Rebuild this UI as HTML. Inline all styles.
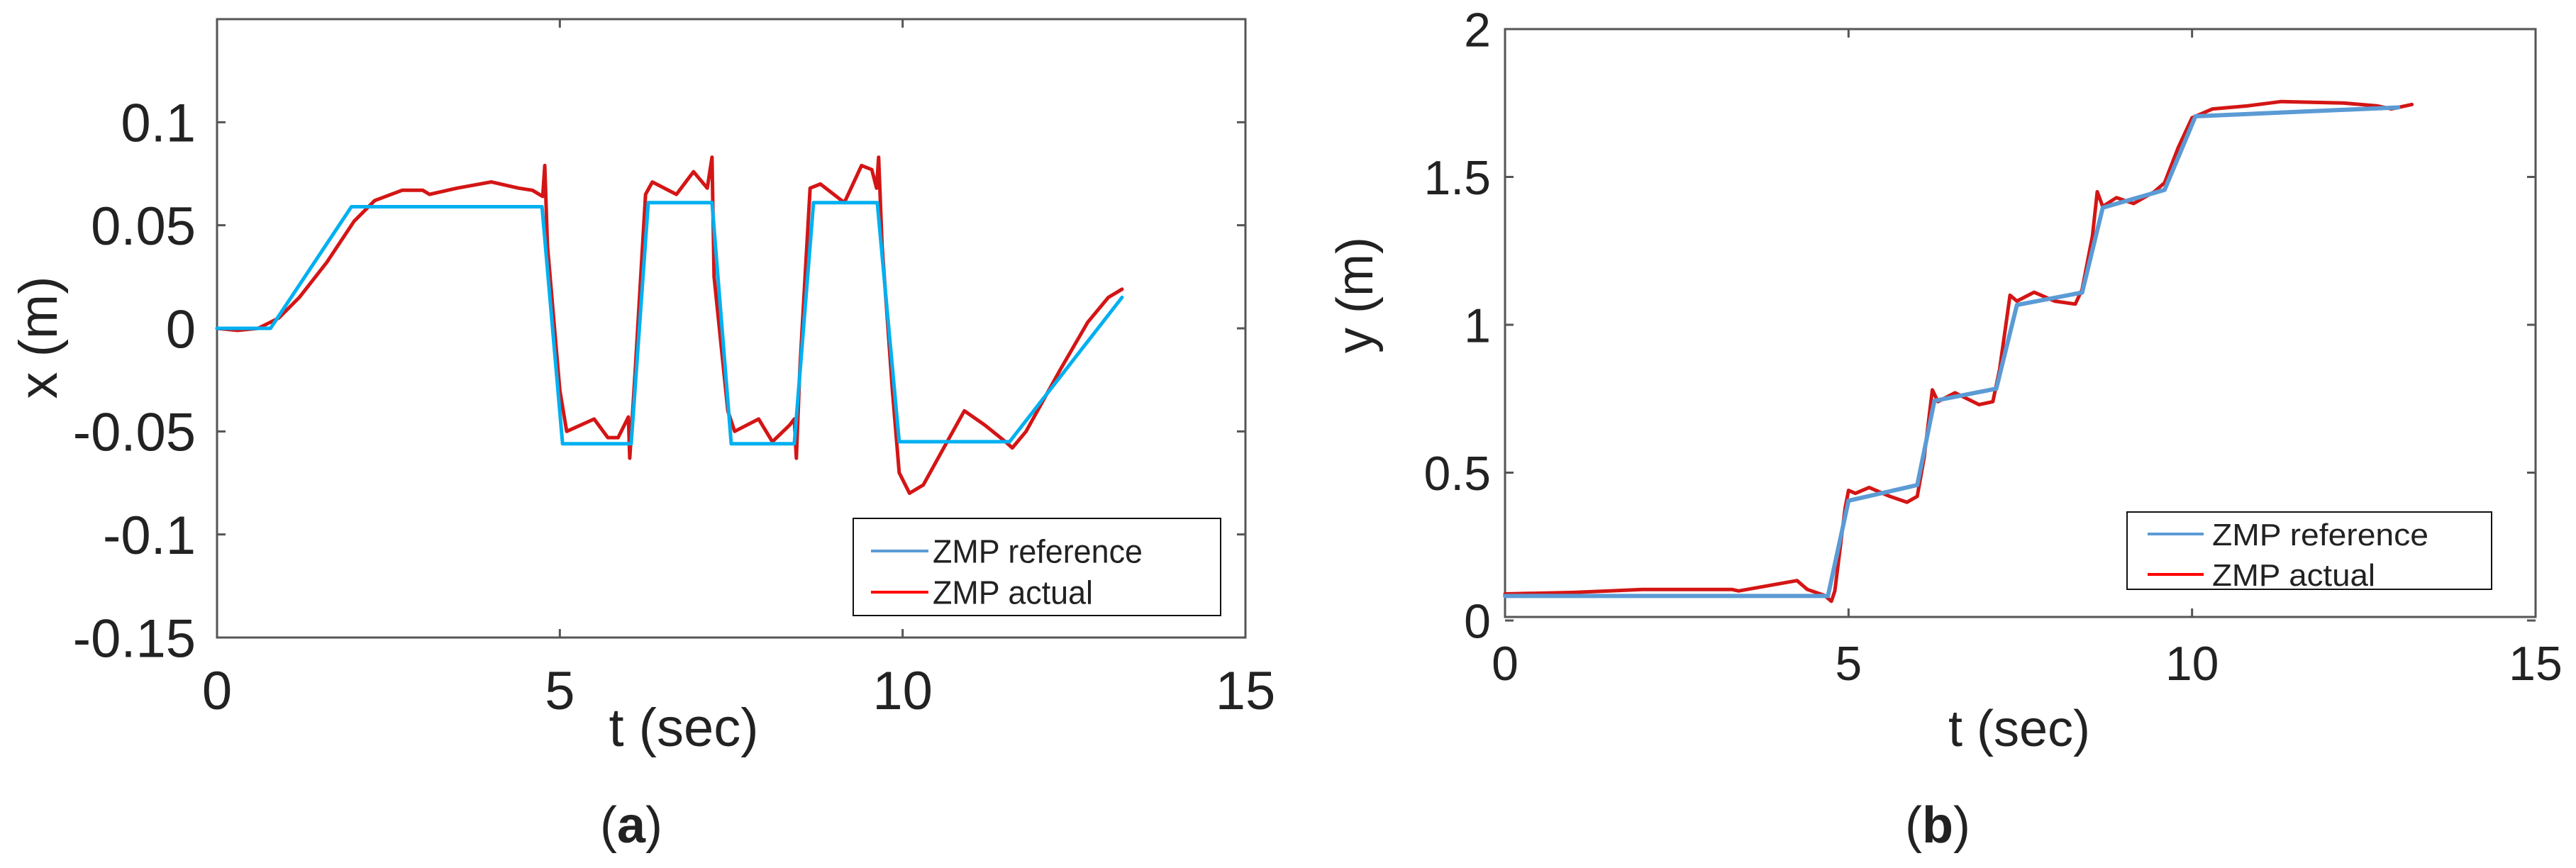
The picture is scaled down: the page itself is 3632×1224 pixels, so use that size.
<!DOCTYPE html>
<html><head><meta charset="utf-8"><style>
html,body{margin:0;padding:0;background:#fff;}
svg{display:block;}
text{font-family:"Liberation Sans",sans-serif;fill:#222;}
</style></head><body>
<svg id="fig" width="3632" height="1224" viewBox="0 0 3632 1224" xmlns="http://www.w3.org/2000/svg">
<g id="pa"></g>
<g id="pb"></g>
</svg>
<script>
// ---- Chart A data ----
const aRefT = [0,0.78,1.96,4.74,5.04,6.04,6.29,7.22,7.5,8.42,8.7,9.63,9.95,11.56,13.2];
const aRefV = [0,0,0.059,0.059,-0.056,-0.056,0.061,0.061,-0.056,-0.056,0.061,0.061,-0.055,-0.055,0.015];
const aActT = [0,0.3,0.6,0.9,1.2,1.6,2.0,2.3,2.7,3.0,3.1,3.5,4.0,4.4,4.6,4.75,4.78,4.82,5.0,5.1,5.5,5.7,5.85,6.0,6.02,6.1,6.25,6.35,6.7,6.95,7.15,7.22,7.25,7.45,7.55,7.9,8.1,8.35,8.42,8.45,8.5,8.65,8.8,9.15,9.4,9.55,9.62,9.65,9.7,9.85,9.95,10.1,10.3,10.7,10.9,11.2,11.5,11.6,11.8,12.3,12.7,13.0,13.2];
const aActV = [0,-0.001,0,0.005,0.015,0.032,0.052,0.062,0.067,0.067,0.065,0.068,0.071,0.068,0.067,0.064,0.079,0.04,-0.03,-0.05,-0.044,-0.053,-0.053,-0.043,-0.063,-0.02,0.065,0.071,0.065,0.076,0.068,0.083,0.025,-0.04,-0.05,-0.044,-0.055,-0.047,-0.044,-0.063,-0.02,0.068,0.07,0.061,0.079,0.077,0.068,0.083,0.04,-0.03,-0.07,-0.08,-0.076,-0.052,-0.04,-0.047,-0.055,-0.058,-0.05,-0.02,0.003,0.015,0.019];
const aXTicks = [0,5,10,15];
const aYTicks = [0.1,0.05,0,-0.05,-0.1,-0.15];
const aYTickLabels = ["0.1","0.05","0","-0.05","-0.1","-0.15"];
// ---- Chart B data ----
const bRefT = [0,4.7,5.0,6.0,6.25,7.15,7.45,8.4,8.7,9.6,10.05,13.0];
const bRefV = [0.083,0.083,0.405,0.458,0.743,0.784,1.067,1.109,1.396,1.456,1.705,1.735];
const bActT = [0,1,2,3.3,3.4,4.25,4.4,4.65,4.75,4.8,4.95,5.0,5.1,5.3,5.6,5.85,6.0,6.1,6.22,6.3,6.55,6.9,7.1,7.2,7.35,7.45,7.7,8.0,8.3,8.4,8.55,8.62,8.7,8.9,9.15,9.45,9.6,9.8,10.0,10.3,10.8,11.3,12.2,12.7,12.9,13.1,13.2];
const bActV = [0.09,0.095,0.105,0.105,0.1,0.135,0.105,0.085,0.065,0.1,0.38,0.44,0.43,0.45,0.42,0.40,0.42,0.55,0.78,0.74,0.77,0.73,0.74,0.85,1.1,1.08,1.11,1.08,1.07,1.12,1.3,1.45,1.4,1.43,1.41,1.45,1.48,1.6,1.7,1.73,1.74,1.755,1.75,1.74,1.73,1.74,1.745];
const bXTicks = [0,5,10,15];
const bYTicks = [0,0.5,1,1.5,2];
const bYTickLabels = ["0","0.5","1","1.5","2"];

const NS="http://www.w3.org/2000/svg";
function mk(parent,tag,attrs){const e=document.createElementNS(NS,tag);for(const k in attrs)e.setAttribute(k,attrs[k]);parent.appendChild(e);return e;}

function drawChart(g,cfg){
  const sx=t=>cfg.x0+(t-cfg.tmin)/(cfg.tmax-cfg.tmin)*(cfg.x1-cfg.x0);
  const sy=v=>cfg.yv0+(v-cfg.vmin)/(cfg.vmax-cfg.vmin)*(cfg.yv1-cfg.yv0);
  const box=mk(g,'rect',{x:cfg.x0,y:cfg.top,width:cfg.x1-cfg.x0,height:cfg.bot-cfg.top,fill:'none',stroke:'#555','stroke-width':3});
  
  
  cfg.xt.forEach(t=>{
    const x=sx(t);
    const tk=mk(g,'path',{d:`M${x},${cfg.bot}v-12M${x},${cfg.top}v12`,stroke:'#555','stroke-width':3});
    
    
    const lb=mk(g,'text',{x:x,y:cfg.xlabY,'text-anchor':'middle','font-size':cfg.fs});
    lb.textContent=String(t);
    
    
  });
  cfg.yt.forEach((v,i)=>{
    const y=sy(v);
    const tk=mk(g,'path',{d:`M${cfg.x0},${y}h12M${cfg.x1},${y}h-12`,stroke:'#555','stroke-width':3});
    
    
    const lb=mk(g,'text',{x:cfg.ylabX,y:y+cfg.fs*0.36,'text-anchor':'end','font-size':cfg.fs});
    lb.textContent=cfg.ytl[i];
    
    
  });
  const pts=(T,V)=>T.map((t,i)=>sx(t).toFixed(1)+','+sy(V[i]).toFixed(1)).join(' ');
  const ref=mk(g,'polyline',{points:pts(cfg.rt,cfg.rv),fill:'none',stroke:cfg.refColor,'stroke-width':cfg.refW,'stroke-linejoin':'round','stroke-linecap':'round'});
  const act=mk(g,'polyline',{points:pts(cfg.at,cfg.av),fill:'none',stroke:'#d41515','stroke-width':5,'stroke-linejoin':'round','stroke-linecap':'round'});
  
  
  g.appendChild(ref);
  
  
  if(cfg.refOnTop===false) g.appendChild(act);
  // legend
  const L=cfg.leg;
  const lg=mk(g,'g',{});
  
  
  mk(lg,'rect',{x:L.x,y:L.y,width:L.w,height:L.h,fill:'#fff',stroke:'#111','stroke-width':2});
  const e1=mk(lg,'line',{x1:L.lx0,x2:L.lx1,y1:L.r1,y2:L.r1,stroke:'#5b9bd5','stroke-width':4});
  
  
  const e2=mk(lg,'line',{x1:L.lx0,x2:L.lx1,y1:L.r2,y2:L.r2,stroke:'#ff0000','stroke-width':4});
  
  
  const t1=mk(lg,'text',{x:L.tx,y:L.r1+L.fs*0.36,'font-size':L.fs,textLength:L.tw1,lengthAdjust:'spacingAndGlyphs'});t1.textContent='ZMP reference';
  
  
  const t2=mk(lg,'text',{x:L.tx,y:L.r2+L.fs*0.36,'font-size':L.fs,textLength:L.tw2,lengthAdjust:'spacingAndGlyphs'});t2.textContent='ZMP actual';
  
  
  // axis titles
  const xt=mk(g,'text',{x:cfg.xtX,y:cfg.xtY,'text-anchor':'middle','font-size':cfg.tfs});
  xt.textContent='t (sec)';
  
  
  const yt=mk(g,'text',{x:0,y:0,'text-anchor':'middle','font-size':cfg.tfs,transform:`translate(${cfg.ytX},${cfg.ytY}) rotate(-90)`});
  yt.textContent=cfg.ytitle;
  
  
  const cap=mk(g,'text',{x:cfg.capX,y:cfg.capY,'text-anchor':'middle','font-size':72,'font-family':'Liberation Serif'});
  cap.innerHTML='(<tspan font-weight="bold">'+cfg.cap+'</tspan>)';
  
  
}

drawChart(document.getElementById('pa'),{
  x0:306,x1:1756,top:27,bot:899,tmin:0,tmax:15,vmin:-0.15,vmax:0.15,yv0:899,yv1:27,
  xt:aXTicks,yt:aYTicks,ytl:aYTickLabels,fs:76,xlabY:1000,ylabX:276,
  rt:aRefT,rv:aRefV,at:aActT,av:aActV,refColor:'#00b0f0',refW:5,
  leg:{x:1203,y:731,w:518,h:137,lx0:1228,lx1:1309,tx:1315,r1:777,r2:835,fs:46,tw1:296,tw2:226},
  xtX:964,xtY:1052,tfs:76,ytX:80,ytY:476,ytitle:'x (m)',capX:890,capY:1188,cap:'a'
});
drawChart(document.getElementById('pb'),{
  x0:2122,x1:3575,top:41,bot:870,tmin:0,tmax:15,vmin:0,vmax:2,yv0:875,yv1:41,
  xt:bXTicks,yt:bYTicks,ytl:bYTickLabels,fs:68,xlabY:959,ylabX:2102,
  rt:bRefT,rv:bRefV,at:bActT,av:bActV,refColor:'#5b9bd5',refW:6,refOnTop:true,
  leg:{x:2999,y:722,w:514,h:109,lx0:3028,lx1:3107,tx:3119,r1:753,r2:810,fs:44,tw1:305,tw2:230},
  xtX:2847,xtY:1052,tfs:72,ytX:1935,ytY:416,ytitle:'y (m)',capX:2732,capY:1188,cap:'b'
});
</script>
</body></html>
